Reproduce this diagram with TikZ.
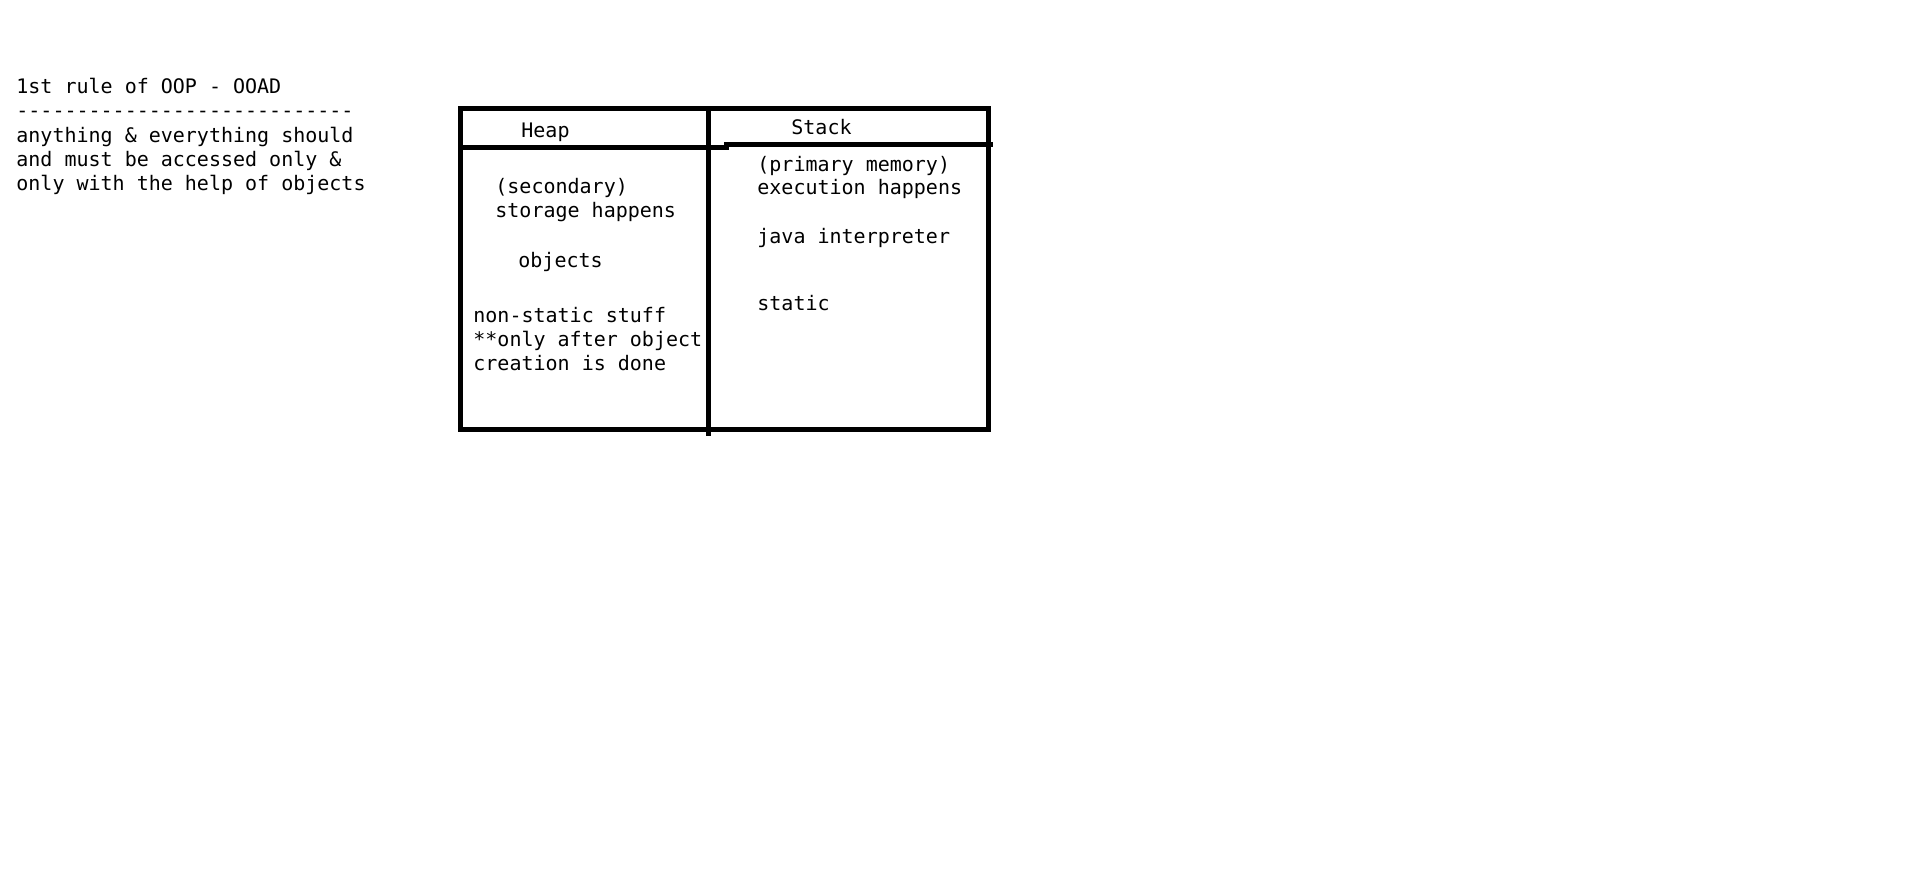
\documentclass[tikz,border=0pt]{standalone}
\usepackage{fontspec}
\setmonofont{DejaVu Sans Mono}
\begin{document}
\begin{tikzpicture}[x=.5pt,y=-.5pt,
    every node/.style={font=\ttfamily\fontsize{10pt}{12pt}\selectfont,
        anchor=base west,inner sep=0pt},
    wall/.style={line width=2.5pt,line cap=rect}]
    \useasboundingbox (0,0) rectangle (1914,884);

    % note on the left
    \node (rule) at (16,93) {1st rule of OOP - OOAD};
    \node (dashes) at (16,117) {----------------------------};
    \node (rulea) at (16,142) {anything \& everything should};
    \node (ruleb) at (16,166) {and must be accessed only \&};
    \node (rulec) at (16,190) {only with the help of objects};

    % memory table
    \draw[wall] (460,108) rectangle (988,429);
    \draw[wall] (708,108) -- (708,433);
    \draw[wall] (460,147) -- (726,147);
    \draw[wall] (726,144) -- (990,144);

    \node (heap) at (521,137) {Heap};
    \node (stack) at (791,134) {Stack};

    % heap column
    \node (second) at (495,193) {(secondary)};
    \node (storage) at (495,217) {storage happens};
    \node (objects) at (518,267) {objects};
    \node (nonstatic) at (473,322) {non-static stuff};
    \node (only) at (473,346) {**only after object};
    \node (creation) at (473,370) {creation is done};

    % stack column
    \node (primary) at (757,171) {(primary memory)};
    \node (execution) at (757,194) {execution happens};
    \node (java) at (757,243) {java interpreter};
    \node (static) at (757,310) {static};
\end{tikzpicture}
\end{document}
